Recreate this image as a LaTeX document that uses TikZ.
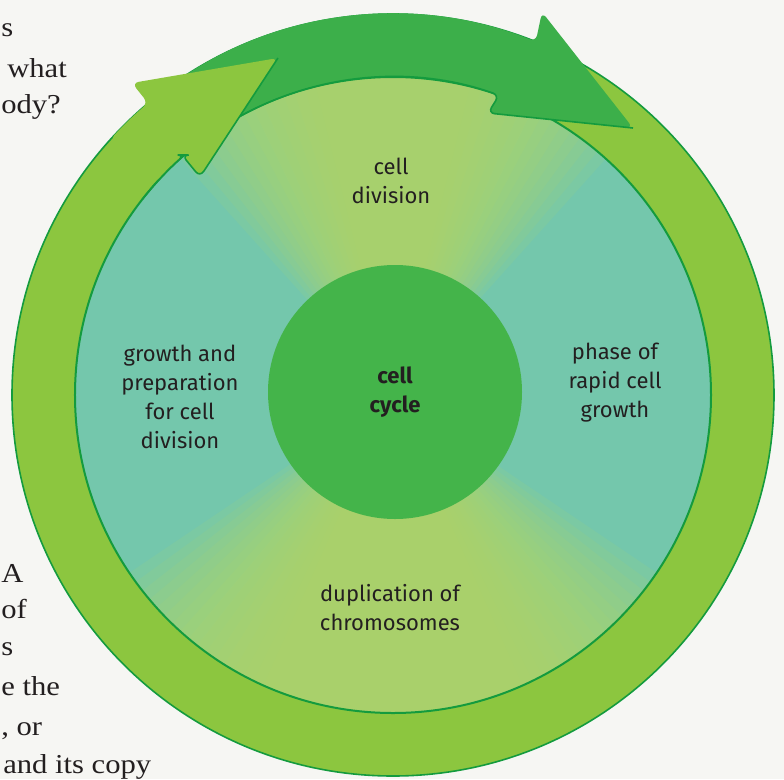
\documentclass[tikz,border=0pt]{standalone}
\usepackage{fontspec}
\setmainfont{Liberation Serif}[FakeStretch=1.12]
\setsansfont{Fira Sans}
\usetikzlibrary{positioning}

\definecolor{paper}{HTML}{F6F6F3}
\definecolor{ringgreen}{HTML}{8CC63F}
\definecolor{bandgreen}{HTML}{3CAF4A}
\definecolor{hubgreen}{HTML}{44B44A}
\definecolor{discteal}{HTML}{74C7AC}
\definecolor{wedgegreen}{HTML}{B4D866}
\definecolor{edgegreen}{HTML}{149B3E}
\definecolor{inkgrey}{HTML}{231F20}

\begin{document}
\begin{tikzpicture}[
    x=0.75pt, y=0.75pt,
    edge/.style={draw=edgegreen, line width=1.2pt},
    wedge/.style={fill=wedgegreen, opacity=0.12},
    phase/.style={font=\sffamily\fontsize{16.5}{21.75}\selectfont, text=inkgrey, align=center, inner sep=0pt},
    pagetext/.style={font=\rmfamily\fontsize{20.5}{25}\selectfont, text=inkgrey, inner sep=0pt}
]
    \fill[paper] (-393,-384) rectangle (391,395);
    \useasboundingbox (-393,-384) rectangle (391,395);

    % book text behind the figure
    \node[pagetext, anchor=base west] (pg1) at (-392,358) {s};
    \node[pagetext, anchor=base west] (pg2) at (-386,318) {what};
    \node[pagetext, anchor=base west] (pg3) at (-392,282) {ody?};
    \node[pagetext, anchor=base west] (pg4) at (-392,-187) {A};
    \node[pagetext, anchor=base west] (pg5) at (-392,-223) {of};
    \node[pagetext, anchor=base west] (pg6) at (-392,-260) {s};
    \node[pagetext, anchor=base west] (pg7) at (-392,-300) {e the};
    \node[pagetext, anchor=base west] (pg8) at (-392,-340) {, or};
    \node[pagetext, anchor=base west] (pg9) at (-390,-378) {and its copy};

    % outer ring and inner disc
    \filldraw[fill=ringgreen, edge] (0,0) circle[radius=381];
    \fill[discteal] (0,0) circle[radius=318];
    \begin{scope}
        \clip (0,0) circle[radius=318];
        \foreach \h in {14,16,...,42}
            \fill[wedge] (0,0) -- (90-\h:330) arc[start angle=90-\h, end angle=90+\h, radius=330] -- cycle;
        \foreach \h in {24,26,...,56}
            \fill[wedge] (0,0) -- (270-\h:330) arc[start angle=270-\h, end angle=270+\h, radius=330] -- cycle;
    \end{scope}
    \draw[edge, line width=1.5pt] (0,0) circle[radius=318];

    % dark arrow along the top
    \fill[bandgreen, rounded corners=5] (125:381) arc[start angle=125, end angle=68, radius=381]
        -- (149,383) -- (240,267) -- (95,282) -- (70.5:318)
        arc[start angle=70.5, end angle=125, radius=318] -- cycle;
    \draw[edge, rounded corners=5] (240,267) -- (95,282) -- (70.5:318)
        arc[start angle=70.5, end angle=125, radius=318];

    % light arrow head
    \fill[ringgreen, rounded corners=5] (138:381) arc[start angle=138, end angle=130, radius=381]
        -- (-261,312) -- (-115,337) -- (-193,218) -- (-211,240) -- (131:318)
        arc[start angle=131, end angle=138, radius=318] -- cycle;
    \draw[edge, rounded corners=5] (-115,337) -- (-193,218) -- (-211,240) -- (131:318)
        arc[start angle=131, end angle=142, radius=318];

    % hub and phases
    \node[circle, fill=hubgreen, minimum size=190.5pt, inner sep=0pt,
        font=\sffamily\bfseries\fontsize{16.5}{21.75}\selectfont, text=inkgrey, align=center] (hub) at (2,3) {cell\\cycle};
    \node[phase] (division) at (-2,214) {cell\\division};
    \node[phase] (growth) at (-213,-2) {growth and\\preparation\\for cell\\division};
    \node[phase] (rapid) at (222,12) {phase of\\rapid cell\\growth};
    \node[phase] (duplication) at (-3,-213) {duplication of\\chromosomes};
\end{tikzpicture}
\end{document}
